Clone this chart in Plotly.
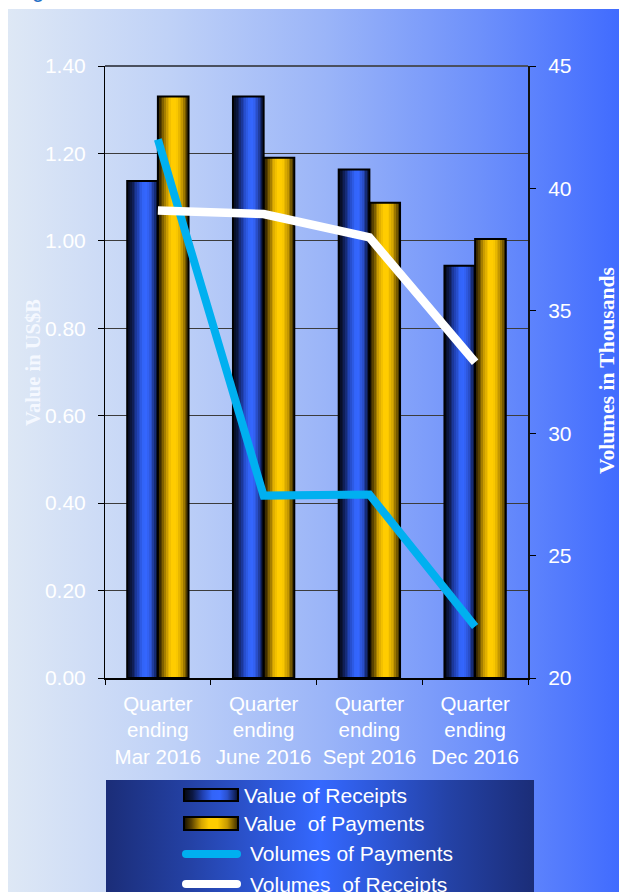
import base64
import plotly.graph_objects as go

# ---- data -------------------------------------------------------------
categories = [
    "Quarter<br>ending<br>Mar 2016",
    "Quarter<br>ending<br>June 2016",
    "Quarter<br>ending<br>Sept 2016",
    "Quarter<br>ending<br>Dec 2016",
]
value_receipts = [1.137, 1.330, 1.163, 0.943]      # US$B
value_payments = [1.330, 1.190, 1.087, 1.004]      # US$B
volume_payments = [42.0, 27.45, 27.5, 22.1]        # thousands
volume_receipts = [39.1, 38.95, 38.0, 32.9]        # thousands

left_ticks = [0.0, 0.2, 0.4, 0.6, 0.8, 1.0, 1.2, 1.4]
right_ticks = [20, 25, 30, 35, 40, 45]

# ---- geometry helpers (pixel -> paper coordinates) -----------------------
W, H = 619, 892
PL, PR, PT, PB = 105, 528, 66, 678


def px_x(p):
    return (p - PL) / (PR - PL)


def px_y(p):
    return (PB - p) / (PB - PT)


def hex2rgb(h):
    h = h.lstrip("#")
    return tuple(int(h[i:i + 2], 16) for i in (0, 2, 4))


def ramp(stops, t):
    for (o0, c0), (o1, c1) in zip(stops, stops[1:]):
        if o0 <= t <= o1:
            f = (t - o0) / (o1 - o0) if o1 > o0 else 0
            a, b = hex2rgb(c0), hex2rgb(c1)
            r = [round(a[k] + (b[k] - a[k]) * f) for k in range(3)]
            return "rgb(%d,%d,%d)" % tuple(r)
    return stops[-1][1]


def grad_uri(stops):
    st = "".join('<stop offset="%s" stop-color="%s"/>' % (o, c) for o, c in stops)
    svg = ('<svg xmlns="http://www.w3.org/2000/svg" width="100" height="100" '
           'viewBox="0 0 100 100" preserveAspectRatio="none"><defs>'
           '<linearGradient id="g" x1="0" y1="0" x2="1" y2="0">%s</linearGradient>'
           '</defs><rect width="100" height="100" fill="url(#g)"/></svg>') % st
    return "data:image/svg+xml;base64," + base64.b64encode(svg.encode()).decode()


def px_image(src, x0, y0, x1, y1, layer="below"):
    return dict(source=src, xref="paper", yref="paper",
                x=px_x(x0), y=px_y(y0),
                sizex=px_x(x1) - px_x(x0), sizey=px_y(y0) - px_y(y1),
                xanchor="left", yanchor="top", sizing="stretch", layer=layer)


# cylinder-like shading across a bar
BLUE_STOPS = [(0.0, "#04060e"), (0.16, "#0c1844"), (0.34, "#1f3fae"),
              (0.52, "#3264f8"), (0.66, "#3466ff"), (0.8, "#2a50cc"),
              (0.93, "#14286c"), (1.0, "#081030")]
GOLD_STOPS = [(0.0, "#140e00"), (0.14, "#5a4200"), (0.32, "#d4a400"),
              (0.46, "#ffcc00"), (0.62, "#ffcc00"), (0.8, "#c89a00"),
              (0.93, "#6a5000"), (1.0, "#382a00")]
PAGE_STOPS = [(0.0, "#dee8f5"), (0.25, "#c0d2f7"), (0.5, "#9bb5f8"),
              (0.75, "#6d90fb"), (1.0, "#3a66ff")]
LEGEND_STOPS = [(0.0, "#1b2d78"), (0.2, "#2442a6"), (0.5, "#3468ff"),
                (0.8, "#2442a6"), (1.0, "#1b2d78")]

BAR_W = 0.29
N_SLICES = 18

fig = go.Figure()


def add_shaded_bars(values, base_offset, stops):
    sw = BAR_W / N_SLICES
    for i in range(N_SLICES):
        fig.add_trace(go.Bar(
            x=categories, y=values,
            offset=base_offset + i * sw, width=sw * 1.08,
            marker=dict(color=ramp(stops, (i + 0.5) / N_SLICES), line=dict(width=0)),
            showlegend=False, hoverinfo="skip"))
    fig.add_trace(go.Bar(
        x=categories, y=values, offset=base_offset, width=BAR_W,
        marker=dict(color="rgba(0,0,0,0)", line=dict(color="#000000", width=2)),
        showlegend=False, hoverinfo="skip"))


add_shaded_bars(value_receipts, -BAR_W, BLUE_STOPS)
add_shaded_bars(value_payments, 0.0, GOLD_STOPS)

fig.add_trace(go.Scatter(
    x=categories, y=volume_payments, yaxis="y2", mode="lines",
    line=dict(color="#00b0f0", width=8), showlegend=False))
fig.add_trace(go.Scatter(
    x=categories, y=volume_receipts, yaxis="y2", mode="lines",
    line=dict(color="#ffffff", width=8.5), showlegend=False))

SANS = "Liberation Sans, Arial, sans-serif"
SERIF = "Liberation Serif, Times New Roman, serif"

images = [
    px_image(grad_uri(PAGE_STOPS), 8, 9, 640, 900),
    px_image(grad_uri(LEGEND_STOPS), 106, 780, 534, 900),
    px_image(grad_uri(BLUE_STOPS), 184, 789, 238, 801, layer="above"),
    px_image(grad_uri(GOLD_STOPS), 184, 817, 238, 830, layer="above"),
]

shapes = [
    # frame line along the top of the plot area
    dict(type="line", xref="paper", yref="paper", x0=0, x1=1, y0=1, y1=1,
         line=dict(color="#4a505e", width=2)),
    # legend swatch outlines and line samples
    dict(type="rect", xref="paper", yref="paper",
         x0=px_x(184), x1=px_x(238), y0=px_y(789), y1=px_y(801),
         line=dict(color="#000000", width=2)),
    dict(type="rect", xref="paper", yref="paper",
         x0=px_x(184), x1=px_x(238), y0=px_y(817), y1=px_y(830),
         line=dict(color="#000000", width=2)),
    dict(type="line", xref="paper", yref="paper",
         x0=px_x(186), x1=px_x(237), y0=px_y(854), y1=px_y(854),
         line=dict(color="#00b0f0", width=8)),
    dict(type="line", xref="paper", yref="paper",
         x0=px_x(186), x1=px_x(237), y0=px_y(884), y1=px_y(884),
         line=dict(color="#ffffff", width=8)),
]
for cx, cy, col in [(186, 854, "#00b0f0"), (237, 854, "#00b0f0"),
                    (186, 884, "#ffffff"), (237, 884, "#ffffff")]:
    shapes.append(dict(type="circle", xref="paper", yref="paper",
                       x0=px_x(cx - 4), x1=px_x(cx + 4),
                       y0=px_y(cy - 4), y1=px_y(cy + 4),
                       fillcolor=col, line=dict(width=0)))

legend_rows = [
    ("Value of Receipts", 242, 795),
    ("Value\u00a0 of Payments", 242, 823),
    ("Volumes of Payments", 248, 854),
    ("Volumes\u00a0 of Receipts", 248, 884),
]
annotations = [
    dict(text=t, xref="paper", yref="paper", x=px_x(x), y=px_y(y),
         xanchor="left", yanchor="middle", showarrow=False,
         font=dict(family=SANS, size=21, color="#ffffff"))
    for t, x, y in legend_rows
]
annotations += [
    dict(text="<b>Value in US$B</b>", textangle=-90, xref="paper", yref="paper",
         x=px_x(33), y=px_y(363), xanchor="center", yanchor="middle",
         showarrow=False, font=dict(family=SERIF, size=20.5, color="#f4f8ff")),
    dict(text="<b>Volumes in Thousands</b>", textangle=-90, xref="paper", yref="paper",
         x=px_x(607), y=px_y(371), xanchor="center", yanchor="middle",
         showarrow=False, font=dict(family=SERIF, size=21.5, color="#ffffff")),
    dict(text="g", xref="paper", yref="paper", x=px_x(38), y=px_y(4),
         xanchor="center", yanchor="bottom", showarrow=False,
         font=dict(family=SANS, size=22, color="#1f6fc5")),
]

fig.update_layout(
    width=W, height=H, autosize=False,
    margin=dict(l=PL, r=W - PR, t=PT, b=H - PB, pad=0),
    paper_bgcolor="#ffffff", plot_bgcolor="#dde8f4",
    barmode="overlay", showlegend=False,
    images=images, shapes=shapes, annotations=annotations,
    xaxis=dict(
        type="category", range=[-0.5, 3.5], tickson="boundaries",
        ticks="outside", ticklen=5, tickcolor="#000000", tickwidth=1,
        showline=True, linecolor="#000000", linewidth=2, showgrid=False,
        tickfont=dict(family=SANS, size=20.5, color="#ffffff"),
        ticklabelstandoff=6,
    ),
    yaxis=dict(
        range=[0, 1.4], tickvals=left_ticks, tickformat=".2f",
        ticks="outside", ticklen=6, tickcolor="#000000",
        showline=True, linecolor="#000000", linewidth=1,
        showgrid=True, gridcolor="#3c3c3c", gridwidth=1, zeroline=False,
        tickfont=dict(family=SANS, size=21, color="#ffffff"),
        ticklabelstandoff=8,
    ),
    yaxis2=dict(
        range=[20, 45], tickvals=right_ticks, overlaying="y", side="right",
        ticks="outside", ticklen=6, tickcolor="#000000",
        showline=True, linecolor="#111111", linewidth=2,
        showgrid=False, zeroline=False,
        tickfont=dict(family=SANS, size=21, color="#ffffff"),
        ticklabelstandoff=8,
    ),
)

fig.write_html("out.html")
